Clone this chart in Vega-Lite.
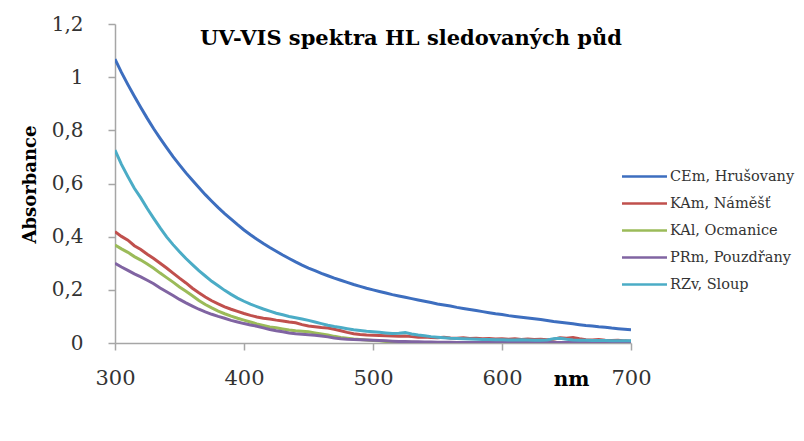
{
  "$schema": "https://vega.github.io/schema/vega-lite/v6.json",
  "width": 516,
  "height": 319,
  "autosize": {"type": "none"},
  "padding": {"left": 115, "top": 24, "right": 173, "bottom": 98},
  "background": "white",
  "title": {"text": "UV-VIS spektra HL sledovaných půd", "font": "DejaVu Serif", "fontSize": 21, "fontWeight": "bold", "color": "black", "anchor": "middle", "frame": "group", "offset": -21, "dx": 38, "dy": 31, "baseline": "alphabetic"},
  "config": {"view": {"stroke": null}},
  "datasets": {
    "spectra": [
      {"nm":300,"CEm, Hrušovany":1.068,"KAm, Náměšť":0.419,"KAl, Ocmanice":0.369,"PRm, Pouzdřany":0.300,"RZv, Sloup":0.726},
      {"nm":305,"CEm, Hrušovany":1.018,"KAm, Náměšť":0.401,"KAl, Ocmanice":0.354,"PRm, Pouzdřany":0.286,"RZv, Sloup":0.672},
      {"nm":310,"CEm, Hrušovany":0.972,"KAm, Náměšť":0.387,"KAl, Ocmanice":0.341,"PRm, Pouzdřany":0.273,"RZv, Sloup":0.626},
      {"nm":315,"CEm, Hrušovany":0.928,"KAm, Náměšť":0.366,"KAl, Ocmanice":0.325,"PRm, Pouzdřany":0.260,"RZv, Sloup":0.582},
      {"nm":320,"CEm, Hrušovany":0.886,"KAm, Náměšť":0.352,"KAl, Ocmanice":0.312,"PRm, Pouzdřany":0.249,"RZv, Sloup":0.546},
      {"nm":325,"CEm, Hrušovany":0.845,"KAm, Náměšť":0.334,"KAl, Ocmanice":0.297,"PRm, Pouzdřany":0.236,"RZv, Sloup":0.506},
      {"nm":330,"CEm, Hrušovany":0.806,"KAm, Náměšť":0.318,"KAl, Ocmanice":0.281,"PRm, Pouzdřany":0.223,"RZv, Sloup":0.469},
      {"nm":335,"CEm, Hrušovany":0.770,"KAm, Náměšť":0.300,"KAl, Ocmanice":0.263,"PRm, Pouzdřany":0.207,"RZv, Sloup":0.433},
      {"nm":340,"CEm, Hrušovany":0.735,"KAm, Náměšť":0.282,"KAl, Ocmanice":0.246,"PRm, Pouzdřany":0.193,"RZv, Sloup":0.399},
      {"nm":345,"CEm, Hrušovany":0.701,"KAm, Náměšť":0.263,"KAl, Ocmanice":0.229,"PRm, Pouzdřany":0.179,"RZv, Sloup":0.370},
      {"nm":350,"CEm, Hrušovany":0.670,"KAm, Náměšť":0.244,"KAl, Ocmanice":0.211,"PRm, Pouzdřany":0.164,"RZv, Sloup":0.343},
      {"nm":355,"CEm, Hrušovany":0.640,"KAm, Náměšť":0.226,"KAl, Ocmanice":0.195,"PRm, Pouzdřany":0.151,"RZv, Sloup":0.318},
      {"nm":360,"CEm, Hrušovany":0.612,"KAm, Náměšť":0.206,"KAl, Ocmanice":0.178,"PRm, Pouzdřany":0.139,"RZv, Sloup":0.295},
      {"nm":365,"CEm, Hrušovany":0.585,"KAm, Náměšť":0.189,"KAl, Ocmanice":0.160,"PRm, Pouzdřany":0.127,"RZv, Sloup":0.272},
      {"nm":370,"CEm, Hrušovany":0.558,"KAm, Náměšť":0.173,"KAl, Ocmanice":0.145,"PRm, Pouzdřany":0.117,"RZv, Sloup":0.252},
      {"nm":375,"CEm, Hrušovany":0.533,"KAm, Náměšť":0.159,"KAl, Ocmanice":0.132,"PRm, Pouzdřany":0.108,"RZv, Sloup":0.232},
      {"nm":380,"CEm, Hrušovany":0.509,"KAm, Náměšť":0.147,"KAl, Ocmanice":0.120,"PRm, Pouzdřany":0.100,"RZv, Sloup":0.215},
      {"nm":385,"CEm, Hrušovany":0.487,"KAm, Náměšť":0.136,"KAl, Ocmanice":0.110,"PRm, Pouzdřany":0.093,"RZv, Sloup":0.198},
      {"nm":390,"CEm, Hrušovany":0.466,"KAm, Náměšť":0.127,"KAl, Ocmanice":0.101,"PRm, Pouzdřany":0.085,"RZv, Sloup":0.183},
      {"nm":395,"CEm, Hrušovany":0.445,"KAm, Náměšť":0.119,"KAl, Ocmanice":0.093,"PRm, Pouzdřany":0.079,"RZv, Sloup":0.169},
      {"nm":400,"CEm, Hrušovany":0.425,"KAm, Náměšť":0.111,"KAl, Ocmanice":0.086,"PRm, Pouzdřany":0.073,"RZv, Sloup":0.157},
      {"nm":405,"CEm, Hrušovany":0.407,"KAm, Náměšť":0.104,"KAl, Ocmanice":0.079,"PRm, Pouzdřany":0.068,"RZv, Sloup":0.146},
      {"nm":410,"CEm, Hrušovany":0.390,"KAm, Náměšť":0.098,"KAl, Ocmanice":0.072,"PRm, Pouzdřany":0.063,"RZv, Sloup":0.137},
      {"nm":415,"CEm, Hrušovany":0.374,"KAm, Náměšť":0.093,"KAl, Ocmanice":0.066,"PRm, Pouzdřany":0.057,"RZv, Sloup":0.128},
      {"nm":420,"CEm, Hrušovany":0.359,"KAm, Náměšť":0.090,"KAl, Ocmanice":0.060,"PRm, Pouzdřany":0.051,"RZv, Sloup":0.120},
      {"nm":425,"CEm, Hrušovany":0.345,"KAm, Náměšť":0.086,"KAl, Ocmanice":0.057,"PRm, Pouzdřany":0.046,"RZv, Sloup":0.112},
      {"nm":430,"CEm, Hrušovany":0.331,"KAm, Náměšť":0.083,"KAl, Ocmanice":0.053,"PRm, Pouzdřany":0.042,"RZv, Sloup":0.106},
      {"nm":435,"CEm, Hrušovany":0.318,"KAm, Náměšť":0.079,"KAl, Ocmanice":0.049,"PRm, Pouzdřany":0.038,"RZv, Sloup":0.100},
      {"nm":440,"CEm, Hrušovany":0.305,"KAm, Náměšť":0.076,"KAl, Ocmanice":0.046,"PRm, Pouzdřany":0.035,"RZv, Sloup":0.095},
      {"nm":445,"CEm, Hrušovany":0.293,"KAm, Náměšť":0.069,"KAl, Ocmanice":0.044,"PRm, Pouzdřany":0.033,"RZv, Sloup":0.090},
      {"nm":450,"CEm, Hrušovany":0.282,"KAm, Náměšť":0.064,"KAl, Ocmanice":0.042,"PRm, Pouzdřany":0.031,"RZv, Sloup":0.085},
      {"nm":455,"CEm, Hrušovany":0.272,"KAm, Náměšť":0.061,"KAl, Ocmanice":0.038,"PRm, Pouzdřany":0.029,"RZv, Sloup":0.079},
      {"nm":460,"CEm, Hrušovany":0.262,"KAm, Náměšť":0.058,"KAl, Ocmanice":0.034,"PRm, Pouzdřany":0.026,"RZv, Sloup":0.073},
      {"nm":465,"CEm, Hrušovany":0.253,"KAm, Náměšť":0.056,"KAl, Ocmanice":0.030,"PRm, Pouzdřany":0.023,"RZv, Sloup":0.067},
      {"nm":470,"CEm, Hrušovany":0.244,"KAm, Náměšť":0.052,"KAl, Ocmanice":0.025,"PRm, Pouzdřany":0.019,"RZv, Sloup":0.062},
      {"nm":475,"CEm, Hrušovany":0.236,"KAm, Náměšť":0.046,"KAl, Ocmanice":0.021,"PRm, Pouzdřany":0.016,"RZv, Sloup":0.058},
      {"nm":480,"CEm, Hrušovany":0.228,"KAm, Náměšť":0.040,"KAl, Ocmanice":0.018,"PRm, Pouzdřany":0.014,"RZv, Sloup":0.054},
      {"nm":485,"CEm, Hrušovany":0.220,"KAm, Náměšť":0.035,"KAl, Ocmanice":0.015,"PRm, Pouzdřany":0.013,"RZv, Sloup":0.050},
      {"nm":490,"CEm, Hrušovany":0.213,"KAm, Náměšť":0.032,"KAl, Ocmanice":0.013,"PRm, Pouzdřany":0.012,"RZv, Sloup":0.047},
      {"nm":495,"CEm, Hrušovany":0.206,"KAm, Náměšť":0.030,"KAl, Ocmanice":0.011,"PRm, Pouzdřany":0.011,"RZv, Sloup":0.044},
      {"nm":500,"CEm, Hrušovany":0.200,"KAm, Náměšť":0.029,"KAl, Ocmanice":0.009,"PRm, Pouzdřany":0.010,"RZv, Sloup":0.042},
      {"nm":505,"CEm, Hrušovany":0.194,"KAm, Náměšť":0.028,"KAl, Ocmanice":0.008,"PRm, Pouzdřany":0.009,"RZv, Sloup":0.040},
      {"nm":510,"CEm, Hrušovany":0.188,"KAm, Náměšť":0.027,"KAl, Ocmanice":0.006,"PRm, Pouzdřany":0.008,"RZv, Sloup":0.038},
      {"nm":515,"CEm, Hrušovany":0.182,"KAm, Náměšť":0.026,"KAl, Ocmanice":0.005,"PRm, Pouzdřany":0.007,"RZv, Sloup":0.036},
      {"nm":520,"CEm, Hrušovany":0.177,"KAm, Náměšť":0.025,"KAl, Ocmanice":0.004,"PRm, Pouzdřany":0.006,"RZv, Sloup":0.037},
      {"nm":525,"CEm, Hrušovany":0.172,"KAm, Náměšť":0.026,"KAl, Ocmanice":0.003,"PRm, Pouzdřany":0.006,"RZv, Sloup":0.039},
      {"nm":530,"CEm, Hrušovany":0.167,"KAm, Náměšť":0.024,"KAl, Ocmanice":0.003,"PRm, Pouzdřany":0.005,"RZv, Sloup":0.034},
      {"nm":535,"CEm, Hrušovany":0.162,"KAm, Náměšť":0.022,"KAl, Ocmanice":0.002,"PRm, Pouzdřany":0.005,"RZv, Sloup":0.030},
      {"nm":540,"CEm, Hrušovany":0.157,"KAm, Náměšť":0.023,"KAl, Ocmanice":0.002,"PRm, Pouzdřany":0.004,"RZv, Sloup":0.027},
      {"nm":545,"CEm, Hrušovany":0.152,"KAm, Náměšť":0.021,"KAl, Ocmanice":0.002,"PRm, Pouzdřany":0.004,"RZv, Sloup":0.024},
      {"nm":550,"CEm, Hrušovany":0.147,"KAm, Náměšť":0.020,"KAl, Ocmanice":0.001,"PRm, Pouzdřany":0.003,"RZv, Sloup":0.022},
      {"nm":555,"CEm, Hrušovany":0.143,"KAm, Náměšť":0.022,"KAl, Ocmanice":0.001,"PRm, Pouzdřany":0.003,"RZv, Sloup":0.020},
      {"nm":560,"CEm, Hrušovany":0.139,"KAm, Náměšť":0.019,"KAl, Ocmanice":0.001,"PRm, Pouzdřany":0.003,"RZv, Sloup":0.018},
      {"nm":565,"CEm, Hrušovany":0.134,"KAm, Náměšť":0.018,"KAl, Ocmanice":0.001,"PRm, Pouzdřany":0.002,"RZv, Sloup":0.017},
      {"nm":570,"CEm, Hrušovany":0.130,"KAm, Náměšť":0.020,"KAl, Ocmanice":0.001,"PRm, Pouzdřany":0.002,"RZv, Sloup":0.016},
      {"nm":575,"CEm, Hrušovany":0.126,"KAm, Náměšť":0.017,"KAl, Ocmanice":0.001,"PRm, Pouzdřany":0.002,"RZv, Sloup":0.015},
      {"nm":580,"CEm, Hrušovany":0.122,"KAm, Náměšť":0.018,"KAl, Ocmanice":0.001,"PRm, Pouzdřany":0.002,"RZv, Sloup":0.014},
      {"nm":585,"CEm, Hrušovany":0.118,"KAm, Náměšť":0.016,"KAl, Ocmanice":0.001,"PRm, Pouzdřany":0.002,"RZv, Sloup":0.013},
      {"nm":590,"CEm, Hrušovany":0.114,"KAm, Náměšť":0.017,"KAl, Ocmanice":0.001,"PRm, Pouzdřany":0.002,"RZv, Sloup":0.013},
      {"nm":595,"CEm, Hrušovany":0.110,"KAm, Náměšť":0.015,"KAl, Ocmanice":0.001,"PRm, Pouzdřany":0.002,"RZv, Sloup":0.012},
      {"nm":600,"CEm, Hrušovany":0.107,"KAm, Náměšť":0.016,"KAl, Ocmanice":0.001,"PRm, Pouzdřany":0.002,"RZv, Sloup":0.012},
      {"nm":605,"CEm, Hrušovany":0.103,"KAm, Náměšť":0.014,"KAl, Ocmanice":0.001,"PRm, Pouzdřany":0.002,"RZv, Sloup":0.011},
      {"nm":610,"CEm, Hrušovany":0.100,"KAm, Náměšť":0.016,"KAl, Ocmanice":0.001,"PRm, Pouzdřany":0.002,"RZv, Sloup":0.011},
      {"nm":615,"CEm, Hrušovany":0.097,"KAm, Náměšť":0.013,"KAl, Ocmanice":0.001,"PRm, Pouzdřany":0.002,"RZv, Sloup":0.012},
      {"nm":620,"CEm, Hrušovany":0.094,"KAm, Náměšť":0.015,"KAl, Ocmanice":0.001,"PRm, Pouzdřany":0.002,"RZv, Sloup":0.011},
      {"nm":625,"CEm, Hrušovany":0.091,"KAm, Náměšť":0.013,"KAl, Ocmanice":0.001,"PRm, Pouzdřany":0.002,"RZv, Sloup":0.010},
      {"nm":630,"CEm, Hrušovany":0.088,"KAm, Náměšť":0.014,"KAl, Ocmanice":0.001,"PRm, Pouzdřany":0.002,"RZv, Sloup":0.010},
      {"nm":635,"CEm, Hrušovany":0.085,"KAm, Náměšť":0.012,"KAl, Ocmanice":0.001,"PRm, Pouzdřany":0.002,"RZv, Sloup":0.011},
      {"nm":640,"CEm, Hrušovany":0.081,"KAm, Náměšť":0.014,"KAl, Ocmanice":0.001,"PRm, Pouzdřany":0.002,"RZv, Sloup":0.016},
      {"nm":645,"CEm, Hrušovany":0.078,"KAm, Náměšť":0.020,"KAl, Ocmanice":0.001,"PRm, Pouzdřany":0.002,"RZv, Sloup":0.018},
      {"nm":650,"CEm, Hrušovany":0.075,"KAm, Náměšť":0.018,"KAl, Ocmanice":0.001,"PRm, Pouzdřany":0.002,"RZv, Sloup":0.014},
      {"nm":655,"CEm, Hrušovany":0.072,"KAm, Náměšť":0.021,"KAl, Ocmanice":0.001,"PRm, Pouzdřany":0.002,"RZv, Sloup":0.011},
      {"nm":660,"CEm, Hrušovany":0.069,"KAm, Náměšť":0.016,"KAl, Ocmanice":0.001,"PRm, Pouzdřany":0.002,"RZv, Sloup":0.010},
      {"nm":665,"CEm, Hrušovany":0.066,"KAm, Náměšť":0.012,"KAl, Ocmanice":0.001,"PRm, Pouzdřany":0.002,"RZv, Sloup":0.010},
      {"nm":670,"CEm, Hrušovany":0.064,"KAm, Náměšť":0.011,"KAl, Ocmanice":0.001,"PRm, Pouzdřany":0.002,"RZv, Sloup":0.009},
      {"nm":675,"CEm, Hrušovany":0.061,"KAm, Náměšť":0.013,"KAl, Ocmanice":0.001,"PRm, Pouzdřany":0.002,"RZv, Sloup":0.009},
      {"nm":680,"CEm, Hrušovany":0.059,"KAm, Náměšť":0.010,"KAl, Ocmanice":0.001,"PRm, Pouzdřany":0.002,"RZv, Sloup":0.009},
      {"nm":685,"CEm, Hrušovany":0.056,"KAm, Náměšť":0.009,"KAl, Ocmanice":0.001,"PRm, Pouzdřany":0.002,"RZv, Sloup":0.008},
      {"nm":690,"CEm, Hrušovany":0.054,"KAm, Náměšť":0.010,"KAl, Ocmanice":0.001,"PRm, Pouzdřany":0.002,"RZv, Sloup":0.008},
      {"nm":695,"CEm, Hrušovany":0.052,"KAm, Náměšť":0.008,"KAl, Ocmanice":0.001,"PRm, Pouzdřany":0.002,"RZv, Sloup":0.008},
      {"nm":700,"CEm, Hrušovany":0.050,"KAm, Náměšť":0.007,"KAl, Ocmanice":0.001,"PRm, Pouzdřany":0.002,"RZv, Sloup":0.008}
    ]
  },
  "data": {"name": "spectra"},
  "transform": [
    {"fold": ["CEm, Hrušovany", "KAm, Náměšť", "KAl, Ocmanice", "PRm, Pouzdřany", "RZv, Sloup"], "as": ["sample", "absorbance"]}
  ],
  "mark": {"type": "line", "strokeWidth": 3, "clip": true},
  "encoding": {
    "x": {
      "field": "nm", "type": "quantitative",
      "scale": {"domain": [300, 700], "nice": false, "zero": false},
      "axis": {
        "values": [300, 400, 500, 600, 700], "grid": false,
        "domainColor": "#a6a6a6", "domainWidth": 1.5, "tickColor": "#a6a6a6", "tickSize": 7, "tickWidth": 1.5,
        "labelFont": "DejaVu Serif", "labelFontSize": 21, "labelColor": "#333333", "labelBaseline": "alphabetic", "labelPadding": 34,
        "labelFlush": false,
        "title": "nm", "titleFont": "DejaVu Serif", "titleFontSize": 20, "titleFontWeight": "bold", "titleColor": "black",
        "titleX": 456, "titleY": 42, "titleBaseline": "alphabetic", "titleAlign": "center", "titleAnchor": null
      }
    },
    "y": {
      "field": "absorbance", "type": "quantitative",
      "scale": {"domain": [0, 1.2], "nice": false},
      "axis": {
        "values": [0, 0.2, 0.4, 0.6, 0.8, 1, 1.2], "grid": false,
        "labelExpr": "replace(format(datum.value, '~g'), '.', ',')",
        "domainColor": "#a6a6a6", "domainWidth": 1.5, "tickColor": "#a6a6a6", "tickSize": 7, "tickWidth": 1.5,
        "labelFont": "DejaVu Serif", "labelFontSize": 20, "labelColor": "#333333", "labelPadding": 25, "labelFlush": false,
        "title": "Absorbance", "titleFont": "DejaVu Serif", "titleFontSize": 18, "titleFontWeight": "bold", "titleColor": "black",
        "titleX": -85, "titleY": 160, "titleAngle": -90, "titleBaseline": "middle", "titleAlign": "center", "titleAnchor": null
      }
    },
    "color": {
      "field": "sample", "type": "nominal",
      "scale": {
        "domain": ["CEm, Hrušovany", "KAm, Náměšť", "KAl, Ocmanice", "PRm, Pouzdřany", "RZv, Sloup"],
        "range": ["#3D6EBF", "#C0504D", "#9BBB59", "#8064A2", "#4BACC6"]
      },
      "legend": {
        "orient": "none", "legendX": 517, "legendY": 140, "title": null,
        "symbolType": "M-2,0H2", "symbolSize": 506, "symbolStrokeWidth": 2.5,
        "labelFont": "DejaVu Serif", "labelFontSize": 14.5, "labelColor": "#333333", "labelLimit": 200,
        "rowPadding": 8, "labelOffset": 13
      }
    }
  }
}
